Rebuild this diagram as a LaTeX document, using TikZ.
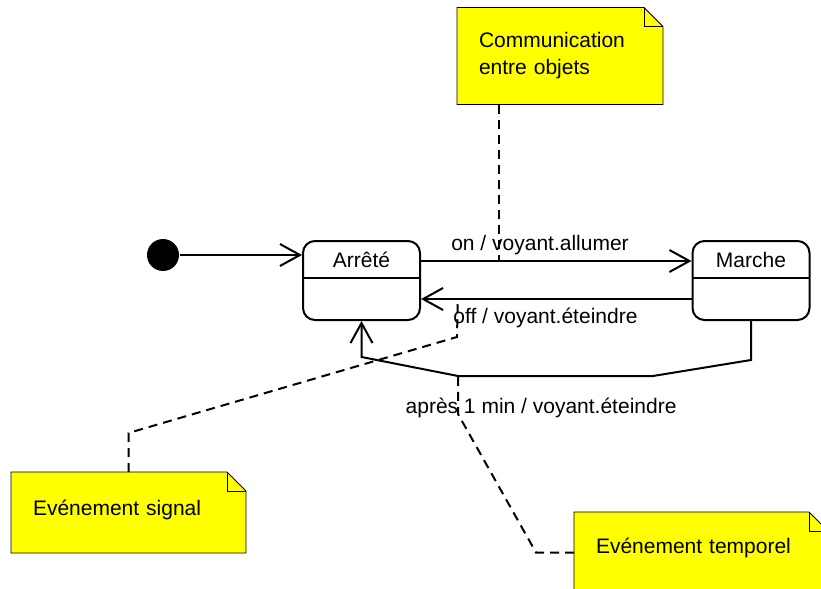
\documentclass[tikz,border=0pt]{standalone}
\usepackage{fontspec}
\setmainfont{Liberation Sans}
\usetikzlibrary{arrows.meta,backgrounds}
\definecolor{nyellow}{HTML}{FFFF00}
\newcommand\lab{\fontsize{10.5}{13.5}\selectfont}
\newcommand\fold{9.5pt}
% yellow note with folded corner, drawn behind node #1
\newcommand\noteframe[1]{%
 \begin{scope}[on background layer]
  \filldraw[fill=nyellow] (#1.south west) -- (#1.north west) -- ([xshift=-\fold]#1.north east)
   -- ([yshift=-\fold]#1.north east) -- (#1.south east) -- cycle;
  \draw ([xshift=-\fold]#1.north east) |- ([yshift=-\fold]#1.north east);
 \end{scope}}

\begin{document}
\begin{tikzpicture}[x=0.5pt,y=-0.5pt,line width=1pt,font=\lab,
 stbox/.style={draw,rounded corners=6pt,minimum width=58.5pt,minimum height=39.5pt,
  text height=8pt,text depth=21.5pt,inner ysep=5pt,
  path picture={\draw ([yshift=-18.5pt]path picture bounding box.north west)
   -- ([yshift=-18.5pt]path picture bounding box.north east);}},
 notebox/.style={align=left,inner xsep=10.5pt,minimum height=39.5pt},
 trans/.style={-{Straight Barb[length=10pt,width=11pt]}},
 anchorline/.style={dash pattern=on 4.5pt off 3pt},
 lbl/.style={anchor=base,inner sep=0pt}]
 \useasboundingbox (0,0) rectangle (821,589);

 % states
 \node[circle,fill=black,inner sep=0pt,minimum size=16pt] (init) at (163,255) {};
 \node[stbox,anchor=north] (arrete) at (361.5,240) {Arrêté};
 \node[stbox,anchor=north] (marche) at (751,240) {Marche};

 % notes
 \node[notebox,text width=81pt,minimum height=47.5pt] (comm) at (560,56) {Communication\\entre objets};
 \node[notebox,text width=95.5pt,text depth=5pt] (signal) at (128.5,512.5) {Evénement signal};
 \node[notebox,text width=105pt,text depth=7pt] (temps) at (701,552.5) {Evénement temporel};
 \noteframe{comm}
 \noteframe{signal}
 \noteframe{temps}

 % transitions
 \coordinate (aprespt) at (458,376);
 \draw[trans] (init) -- (init -| arrete.west);
 \draw[trans] ([yshift=-10.5pt]arrete.north east) -- ([yshift=-10.5pt]arrete.north east -| marche.west)
  node[lbl,pos=.44,yshift=5.5pt] {on / voyant.allumer}
  coordinate[pos=.287] (onpt);
 \draw[trans] ([yshift=-29.5pt]marche.north west) -- ([yshift=-29.5pt]marche.north west -| arrete.east)
  node[lbl,pos=.54,yshift=-12pt] {off / voyant.éteindre}
  coordinate[pos=.864] (offpt);
 \draw[trans] (marche.south) -- ++(0,39) -- (653,376) -- (aprespt)
  node[lbl,pos=.574,yshift=-18.5pt] {après 1 min / voyant.éteindre}
  -- (361.5,357) -- (arrete.south);

 % note links
 \draw[anchorline] (comm.south -| onpt) -- (onpt);
 \draw[anchorline] (signal.north) -- ++(0,-39) -- (457,337) -- (offpt);
 \draw[anchorline] (temps.west) -- (536,552.5) -- (458,414) -- (aprespt);
\end{tikzpicture}
\end{document}
